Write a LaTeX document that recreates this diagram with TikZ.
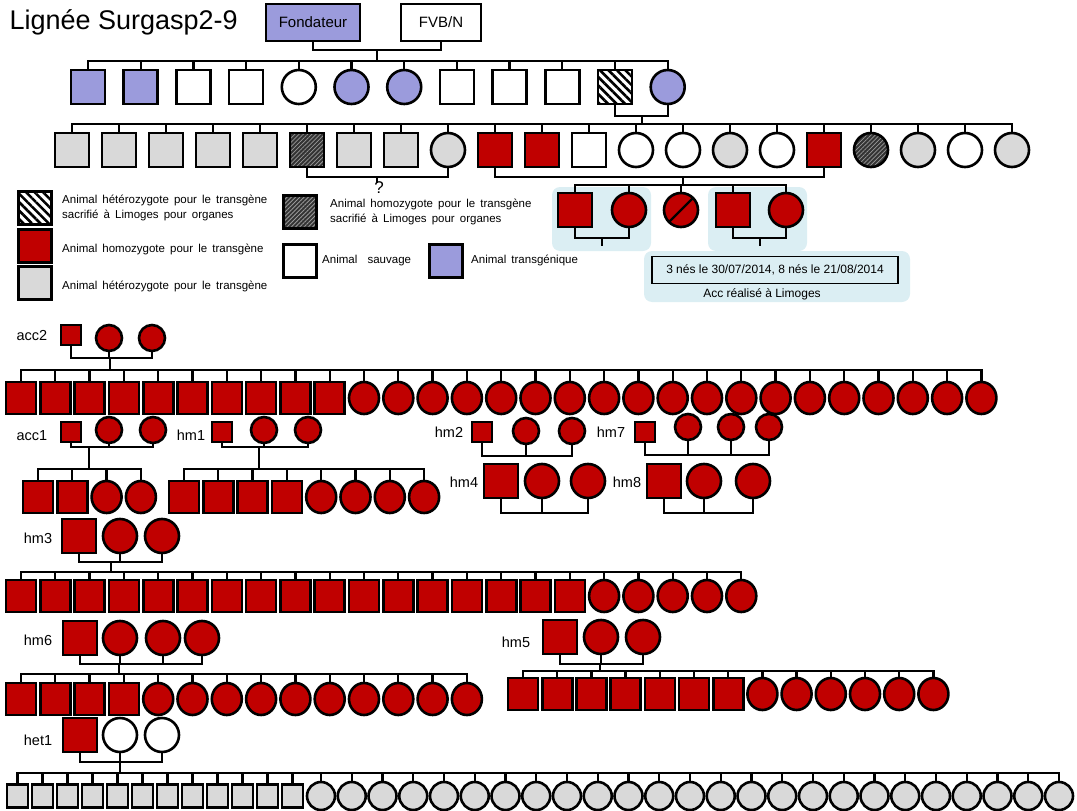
\documentclass[tikz,border=0pt]{standalone}
\usepackage{fontspec}
\setmainfont{Liberation Sans}
\newfontfamily\legfont{Liberation Sans}[WordSpace=1.6]
\usetikzlibrary{shapes.geometric,patterns.meta}
\definecolor{HomoClr}{RGB}{192,0,0}
\definecolor{HetClr}{RGB}{217,217,217}
\definecolor{TgClr}{RGB}{155,155,220}
\definecolor{AccClr}{RGB}{219,238,243}

\begin{document}
\begin{tikzpicture}[x=1pt,y=-1pt,
  ind/.style={draw=black,line width=2.6pt,inner sep=0pt,outer sep=0pt},
  sq/.style={ind,rectangle,minimum width=#1,minimum height=#1},
  sq/.default=34pt,
  ci/.style={ind,ellipse,minimum width=#1,minimum height=#1},
  ci/.default=34pt,
  kid/.style={minimum width=30pt,minimum height=32pt},
  homo/.style={fill=HomoClr},
  het/.style={fill=HetClr},
  wt/.style={fill=white},
  tg/.style={fill=TgClr},
  hetsac/.style={preaction={fill=white},pattern={Lines[angle=-45,distance=6pt,line width=2.6pt]},pattern color=black},
  homsac/.style={preaction={fill=black!80},pattern={Lines[angle=45,distance=3pt,line width=0.8pt]},pattern color=gray!80},
  link/.style={line width=2.3pt},
  lbl/.style={font=\fontsize{14.5}{16}\selectfont},
  leg/.style={anchor=west,align=left,inner sep=0pt,font=\legfont\fontsize{11.5}{15}\selectfont},
  txt/.style={font=\fontsize{12}{14}\selectfont}]
\useasboundingbox (0,0) rectangle (1077,811);

% fonds des accouplements Limoges
\fill[AccClr,rounded corners=8pt] (552,187) rectangle (651,251);
\fill[AccClr,rounded corners=8pt] (708,187) rectangle (807,251);
\fill[AccClr,rounded corners=8pt] (644,251) rectangle (910,302);

\node[anchor=west,font=\fontsize{27}{30}\selectfont] (title) at (6,22) {Lignée Surgasp2-9};
\node[ind,tg,minimum width=94pt,minimum height=37pt,font=\fontsize{15}{17}\selectfont] (fond) at (313,22.5) {Fondateur};
\node[ind,wt,minimum width=80pt,minimum height=37pt,font=\fontsize{15}{17}\selectfont] (fvb) at (441,22.5) {FVB/N};

% F1
\foreach \s/\c [count=\i] in {sq/tg,sq/tg,sq/wt,sq/wt,ci/wt,ci/tg,ci/tg,sq/wt,sq/wt,sq/wt,sq/hetsac,ci/tg}
  \node[\s,\c] (a\i) at ({88+52.7*(\i-1)},87) {};
\coordinate (m0) at (377,50);
\coordinate (s0) at (377,61);
\draw[link] (fond.south) |- (m0) -| (fvb.south);
\draw[link] (m0) -- (s0);
\foreach \i in {1,...,12} \draw[link] (a\i.north) |- (s0);

% F2
\foreach \s/\c [count=\i] in {sq/het,sq/het,sq/het,sq/het,sq/het,sq/homsac,sq/het,sq/het,ci/het,sq/homo,sq/homo,sq/wt,ci/wt,ci/wt,ci/het,ci/wt,sq/homo,ci/homsac,ci/het,ci/wt,ci/het}
  \node[\s,\c] (b\i) at ({72+47*(\i-1)},150) {};
\coordinate (m1) at (642,116);
\coordinate (s1) at (642,124);
\draw[link] (a11.south) |- (m1) -| (a12.south);
\draw[link] (m1) -- (s1);
\foreach \i in {1,...,21} \draw[link] (b\i.north) |- (s1);

\coordinate (m2) at (377,177);
\coordinate (q) at (377,183);
\draw[link] (b6.south) |- (m2) -| (b9.south);
\draw[link] (m2) -- (q);
\node[anchor=north,inner sep=0pt,font=\fontsize{17}{19}\selectfont] (qm) at (379,181) {?};

\coordinate (m3) at (683,177);
\coordinate (s3) at (683,185);
\draw[link] (b10.south) |- (m3) -| (b17.south);
\draw[link] (m3) -- (s3);

% F3 Limoges
\foreach \x/\s [count=\i] in {575/sq,629/ci,681/ci,733/sq,786/ci}
  \node[\s,homo] (c\i) at (\x,210) {};
\foreach \i in {1,...,5} \draw[link] (c\i.north) |- (s3);
\draw[link] (c3.south west) -- (c3.north east);
\coordinate (m4) at (602,238);
\coordinate (d4) at (602,246);
\draw[link] (c1.south) |- (m4) -| (c2.south);
\draw[link] (m4) -- (d4);
\coordinate (m5) at (760,238);
\coordinate (d5) at (760,246);
\draw[link] (c4.south) |- (m5) -| (c5.south);
\draw[link] (m5) -- (d5);

\node[draw,line width=1.2pt,minimum width=246pt,minimum height=27pt,txt] (nes) at (775,270) {3 nés le 30/07/2014, 8 nés le 21/08/2014};
\node[txt] (lim) at (762,294) {Acc réalisé à Limoges};

% legende
\node[sq=33pt,hetsac] (l1) at (35,208) {};
\node[leg] (t1) at (62,208) {Animal hétérozygote pour le transgène\\sacrifié à Limoges pour organes};
\node[sq=33pt,homo] (l2) at (35,246) {};
\node[leg] (t2) at (62,249) {Animal homozygote pour le transgène};
\node[sq=33pt,het] (l3) at (35,283) {};
\node[leg] (t3) at (62,286) {Animal hétérozygote pour le transgène};
\node[sq=33pt,homsac] (l4) at (300,212) {};
\node[leg] (t4) at (330,212) {Animal homozygote pour le transgène\\sacrifié à Limoges pour organes};
\node[sq=33pt,wt] (l5) at (300,261) {};
\node[leg] (t5) at (322,261) {Animal\ \ sauvage};
\node[sq=33pt,tg] (l6) at (446,261) {};
\node[leg] (t6) at (471,260) {Animal transgénique};

% acc2
\node[lbl] (acc2) at (32,336) {acc2};
\node[sq=20pt,homo] (p1) at (71,335) {};
\node[ci=26pt,homo] (p1a) at (109,338) {};
\node[ci=26pt,homo] (p1b) at (152,338) {};
\coordinate (m6) at (110,358);
\coordinate (s6) at (110,370);
\draw[link] (p1.south) |- (m6) -| (p1b.south);
\draw[link] (p1a.south) -- (p1a.south |- m6);
\draw[link] (m6) -- (s6);
\foreach \i in {1,...,10} \node[sq,kid,homo] (e\i) at ({21+34.3*(\i-1)},398) {};
\foreach \i in {11,...,29} \node[ci,kid,homo] (e\i) at ({21+34.3*(\i-1)},398) {};
\foreach \i in {1,...,29} \draw[link] (e\i.north) |- (s6);

% acc1
\node[lbl] (acc1) at (32,436) {acc1};
\node[sq=20pt,homo] (p2) at (71,432) {};
\node[ci=26pt,homo] (p2a) at (109,430) {};
\node[ci=26pt,homo] (p2b) at (153,430) {};
\coordinate (m7) at (89,447);
\coordinate (s7) at (89,469);
\draw[link] (p2.south) |- (m7) -| (p2b.south);
\draw[link] (p2a.south) -- (p2a.south |- m7);
\draw[link] (m7) -- (s7);
\foreach \s [count=\i] in {sq,sq,ci,ci} \node[\s,kid,homo] (f\i) at ({38+34.3*(\i-1)},497) {};
\foreach \i in {1,...,4} \draw[link] (f\i.north) |- (s7);

% hm1
\node[lbl] (hm1) at (191,435) {hm1};
\node[sq=20pt,homo] (p3) at (222,432) {};
\node[ci=26pt,homo] (p3a) at (264,430) {};
\node[ci=26pt,homo] (p3b) at (308,430) {};
\coordinate (m8) at (259,447);
\coordinate (s8) at (259,469);
\draw[link] (p3.south) |- (m8) -| (p3b.south);
\draw[link] (p3a.south) -- (p3a.south |- m8);
\draw[link] (m8) -- (s8);
\foreach \s [count=\i] in {sq,sq,sq,sq,ci,ci,ci,ci} \node[\s,kid,homo] (g\i) at ({184+34.3*(\i-1)},497) {};
\foreach \i in {1,...,8} \draw[link] (g\i.north) |- (s8);

% hm2
\node[lbl] (hm2) at (449,432) {hm2};
\node[sq=20pt,homo] (p4) at (482,432) {};
\node[ci=26pt,homo] (p4a) at (526,431) {};
\node[ci=26pt,homo] (p4b) at (572,431) {};
\coordinate (m9) at (526,456);
\draw[link] (p4.south) |- (m9) -| (p4b.south);
\draw[link] (p4a.south) -- (m9);

% hm7
\node[lbl] (hm7) at (611,432) {hm7};
\node[sq=20pt,homo] (p5) at (645,432) {};
\node[ci=26pt,homo] (p5a) at (688,427) {};
\node[ci=26pt,homo] (p5b) at (731,427) {};
\node[ci=26pt,homo] (p5c) at (769,427) {};
\coordinate (m10) at (700,455);
\draw[link] (p5.south) |- (m10) -| (p5c.south);
\draw[link] (p5a.south) -- (p5a.south |- m10);
\draw[link] (p5b.south) -- (p5b.south |- m10);

% hm4
\node[lbl] (hm4) at (464,482) {hm4};
\node[sq,homo] (p6) at (501,481) {};
\node[ci,homo] (p6a) at (542,481) {};
\node[ci,homo] (p6b) at (588,481) {};
\coordinate (m11) at (542,513);
\draw[link] (p6.south) |- (m11) -| (p6b.south);
\draw[link] (p6a.south) -- (m11);

% hm8
\node[lbl] (hm8) at (627,482) {hm8};
\node[sq,homo] (p7) at (664,481) {};
\node[ci,homo] (p7a) at (704,481) {};
\node[ci,homo] (p7b) at (753,481) {};
\coordinate (m12) at (704,513);
\draw[link] (p7.south) |- (m12) -| (p7b.south);
\draw[link] (p7a.south) -- (m12);

% hm3
\node[lbl] (hm3) at (38,538) {hm3};
\node[sq,homo] (p8) at (79,536) {};
\node[ci,homo] (p8a) at (120,536) {};
\node[ci,homo] (p8b) at (162,536) {};
\coordinate (m13) at (111,562);
\coordinate (s13) at (111,572);
\draw[link] (p8.south) |- (m13) -| (p8b.south);
\draw[link] (p8a.south) -- (p8a.south |- m13);
\draw[link] (m13) -- (s13);
\foreach \i in {1,...,17} \node[sq,kid,homo] (k\i) at ({21+34.3*(\i-1)},596) {};
\foreach \i in {18,...,22} \node[ci,kid,homo] (k\i) at ({21+34.3*(\i-1)},596) {};
\foreach \i in {1,...,22} \draw[link] (k\i.north) |- (s13);

% hm6
\node[lbl] (hm6) at (38,640) {hm6};
\node[sq,homo] (p9) at (80,638) {};
\node[ci,homo] (p9a) at (120,638) {};
\node[ci,homo] (p9b) at (163,638) {};
\node[ci,homo] (p9c) at (202,638) {};
\coordinate (m14) at (119,664);
\coordinate (s14) at (119,674);
\draw[link] (p9.south) |- (m14) -| (p9c.south);
\draw[link] (p9a.south) -- (p9a.south |- m14);
\draw[link] (p9b.south) -- (p9b.south |- m14);
\draw[link] (m14) -- (s14);
\foreach \i in {1,...,4} \node[sq,kid,homo] (n\i) at ({21+34.3*(\i-1)},699) {};
\foreach \i in {5,...,14} \node[ci,kid,homo] (n\i) at ({21+34.3*(\i-1)},699) {};
\foreach \i in {1,...,14} \draw[link] (n\i.north) |- (s14);

% hm5
\node[lbl] (hm5) at (516,642) {hm5};
\node[sq,homo] (p10) at (560,637) {};
\node[ci,homo] (p10a) at (601,637) {};
\node[ci,homo] (p10b) at (643,637) {};
\coordinate (m15) at (600,664);
\coordinate (s15) at (600,671);
\draw[link] (p10.south) |- (m15) -| (p10b.south);
\draw[link] (p10a.south) -- (p10a.south |- m15);
\draw[link] (m15) -- (s15);
\foreach \i in {1,...,7} \node[sq,kid,homo] (o\i) at ({523+34.2*(\i-1)},694) {};
\foreach \i in {8,...,13} \node[ci,kid,homo] (o\i) at ({523+34.2*(\i-1)},694) {};
\foreach \i in {1,...,13} \draw[link] (o\i.north) |- (s15);

% het1
\node[lbl] (het1) at (38,740) {het1};
\node[sq,homo] (p11) at (80,735) {};
\node[ci,wt] (p11a) at (120,735) {};
\node[ci,wt] (p11b) at (162,735) {};
\coordinate (m16) at (120,762);
\coordinate (s16) at (120,773);
\draw[link] (p11.south) |- (m16) -| (p11b.south);
\draw[link] (p11a.south) -- (m16);
\draw[link] (m16) -- (s16);
\foreach \i in {1,...,12} \node[sq,het,minimum width=21pt,minimum height=23pt] (u\i) at ({17.5+25*(\i-1)},796) {};
\foreach \i in {13,...,37} \node[ci=28pt,het] (u\i) at ({321+30.75*(\i-13)},796) {};
\foreach \i in {1,...,37} \draw[link] (u\i.north) |- (s16);
\end{tikzpicture}
\end{document}
